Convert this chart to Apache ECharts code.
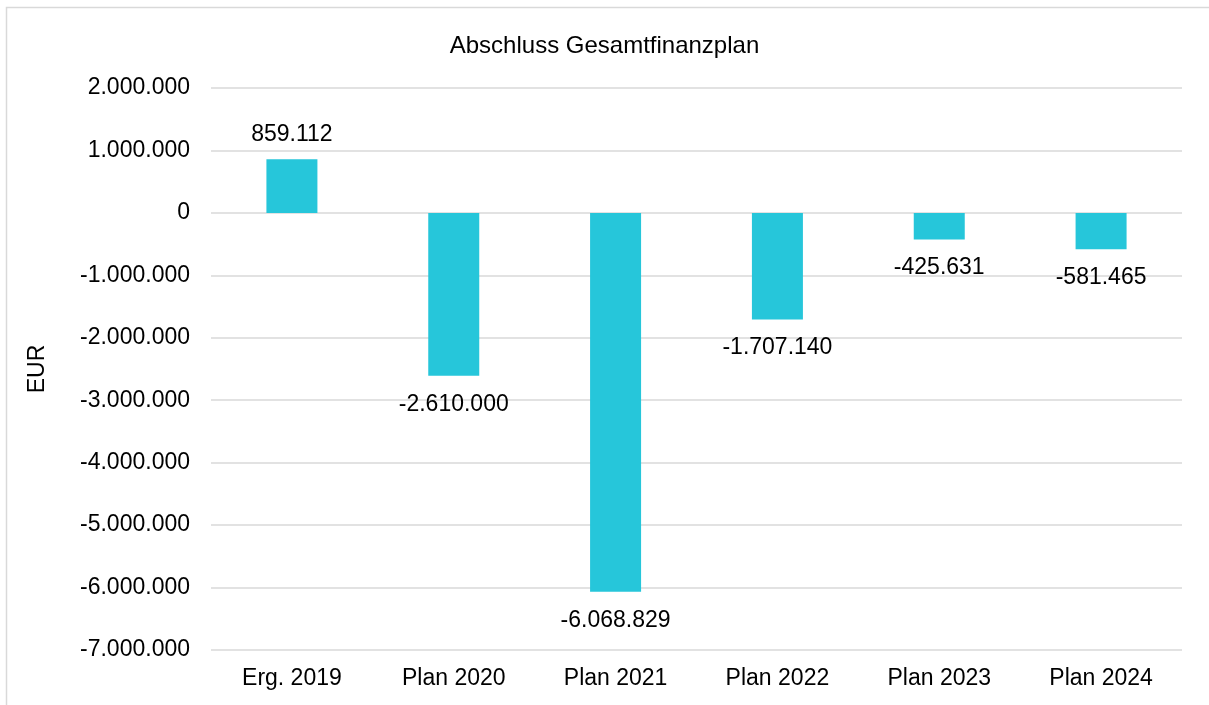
<!DOCTYPE html>
<html lang="de">
<head>
    <meta charset="UTF-8">
    <title>Abschluss Gesamtfinanzplan</title>
    <script src="https://cdn.jsdelivr.net/npm/echarts@6/dist/echarts.min.js"></script>
    <style>
        html, body { margin: 0; padding: 0; background: #fff; }
        #main { width: 1209px; height: 705px; }
    </style>
</head>
<body>
    <div id="main"></div>
    <script>
        // Daten
        let categories = ['Erg. 2019', 'Plan 2020', 'Plan 2021', 'Plan 2022', 'Plan 2023', 'Plan 2024'];
        let values = [859112, -2610000, -6068829, -1707140, -425631, -581465];

        // 1234567 -> 1.234.567
        function fmt(v) {
            let s = Math.abs(Math.round(v)).toString().replace(/\B(?=(\d{3})+(?!\d))/g, '.');
            return (v < 0 ? '-' : '') + s;
        }

        let font = 'Liberation Sans, Arial, sans-serif';
        let chart = echarts.init(document.getElementById('main'));

        chart.setOption({
            animation: false,
            title: {
                text: 'Abschluss Gesamtfinanzplan',
                left: 'center',
                top: 29,
                textStyle: { fontFamily: font, fontSize: 24, fontWeight: 'normal', color: '#000' }
            },
            graphic: [{
                type: 'rect',
                shape: { x: 6.5, y: 7.5, width: 1400, height: 900 },
                style: { fill: 'none', stroke: '#d9d9d9', lineWidth: 1.5 },
                silent: true
            }],
            grid: { left: 211, right: 27, top: 88, bottom: 55 },
            xAxis: {
                type: 'category',
                data: categories,
                axisLine: { show: false },
                axisTick: { show: false },
                axisLabel: { margin: 17, fontFamily: font, fontSize: 23, color: '#000' }
            },
            yAxis: {
                type: 'value',
                min: -7000000,
                max: 2000000,
                interval: 1000000,
                name: 'EUR',
                nameLocation: 'middle',
                nameGap: 162,
                nameTextStyle: { fontFamily: font, fontSize: 23, color: '#000' },
                axisLine: { show: false },
                axisTick: { show: false },
                splitLine: { lineStyle: { color: '#d9d9d9', width: 1.5 } },
                axisLabel: { margin: 21, fontFamily: font, fontSize: 23, color: '#000', formatter: fmt }
            },
            series: [{
                type: 'bar',
                barWidth: 51,
                data: values.map(function (v) {
                    return {
                        value: v,
                        label: v >= 0 ? { position: 'top', distance: 13 } : { position: 'bottom', distance: 17 }
                    };
                }),
                itemStyle: { color: '#26c6da' },
                label: {
                    show: true,
                    fontFamily: font,
                    fontSize: 23,
                    color: '#000',
                    formatter: function (p) { return fmt(p.value); }
                }
            }]
        });
    </script>
</body>
</html>
